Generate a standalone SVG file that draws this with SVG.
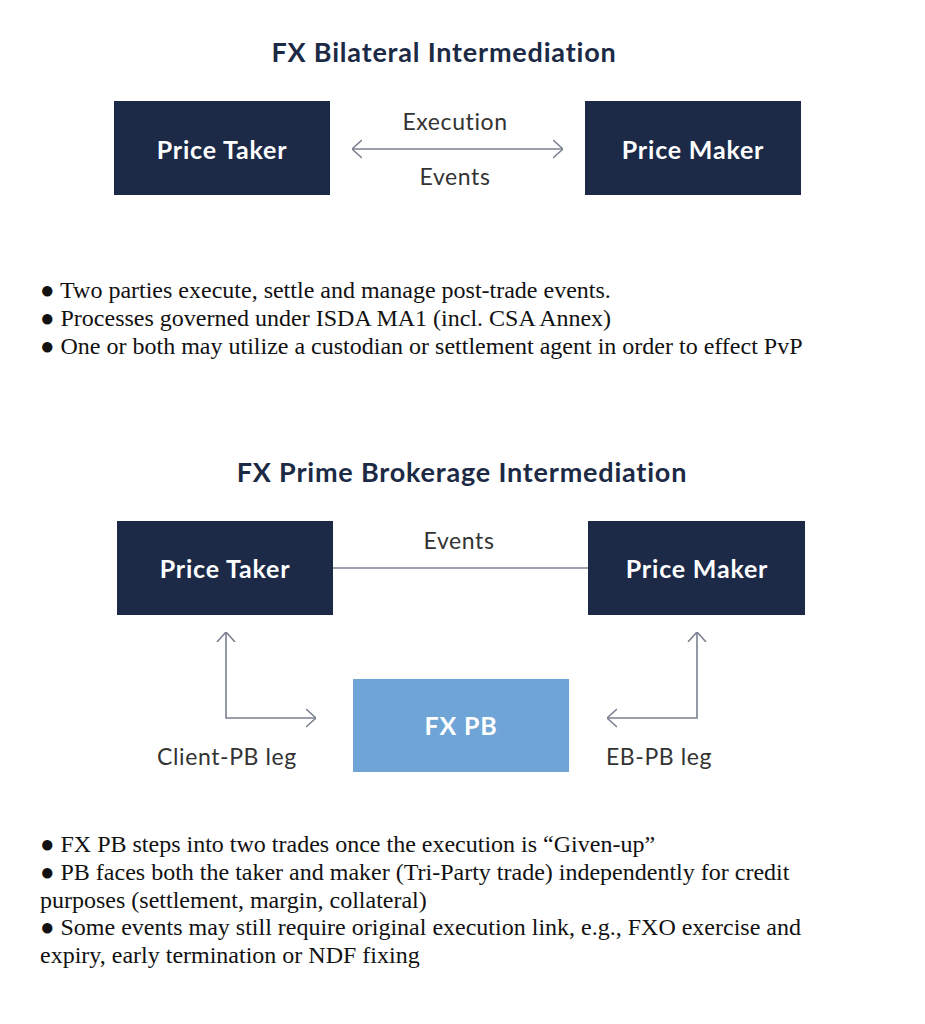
<svg xmlns="http://www.w3.org/2000/svg" width="925" height="1024" viewBox="0 0 925 1024">
<style>
.title{font-family:Lato,"Open Sans",sans-serif;font-weight:bold;font-size:27px;letter-spacing:0.8px;fill:#1c2a45;text-anchor:middle}
.box{fill:#1c2a48}
.bt{font-family:Lato,"Open Sans",sans-serif;font-weight:bold;font-size:25px;letter-spacing:0.8px;fill:#fff;text-anchor:middle}
.lb{font-family:Lato,"Open Sans",sans-serif;font-size:23px;letter-spacing:0.6px;fill:#333;text-anchor:middle}
.body{font-family:"Liberation Serif",serif;font-size:24px;fill:#111}
.ln{stroke:#7a8090;stroke-width:1.6;fill:none}
</style>
<defs><marker id="a" viewBox="0 0 10 20" refX="10" refY="10" markerWidth="10" markerHeight="20" markerUnits="userSpaceOnUse" orient="auto-start-reverse"><path d="M0,1 L10,10 L0,19" fill="none" stroke="#7a8090" stroke-width="1.6"/></marker></defs>
<rect width="925" height="1024" fill="#fff"/>
<text class="title" x="444" y="62">FX Bilateral Intermediation</text>
<g id="pt1"><rect class="box" x="114" y="101" width="216" height="94"/><text class="bt" x="222" y="159">Price Taker</text></g>
<g id="pm1"><rect class="box" x="585" y="101" width="216" height="94"/><text class="bt" x="693" y="159">Price Maker</text></g>
<g id="conn1"><line class="ln" x1="352" y1="149" x2="563" y2="149" marker-start="url(#a)" marker-end="url(#a)"/>
<text class="lb" x="455" y="130">Execution</text><text class="lb" x="455" y="185">Events</text></g>
<g class="body">
<text x="40" y="298">● Two parties execute, settle and manage post-trade events.</text>
<text x="40" y="326">● Processes governed under ISDA MA1 (incl. CSA Annex)</text>
<text x="40" y="354">● One or both may utilize a custodian or settlement agent in order to effect PvP</text>
</g>
<text class="title" x="462" y="482">FX Prime Brokerage Intermediation</text>
<g id="pt2"><rect class="box" x="117" y="521" width="216" height="94"/><text class="bt" x="225" y="578">Price Taker</text></g>
<g id="pm2"><rect class="box" x="588" y="521" width="217" height="94"/><text class="bt" x="697" y="578">Price Maker</text></g>
<g id="pb"><rect x="353" y="679" width="216" height="93" fill="#6fa5d6"/><text class="bt" x="461" y="735">FX PB</text></g>
<g id="conn2">
<line class="ln" x1="333" y1="568" x2="588" y2="568"/>
<text class="lb" x="459" y="549">Events</text>
<path class="ln" d="M226,632 V718 H316" marker-start="url(#a)" marker-end="url(#a)"/>
<path class="ln" d="M697,632 V718 H607" marker-start="url(#a)" marker-end="url(#a)"/>
<text class="lb" x="227" y="765">Client-PB leg</text>
<text class="lb" x="659" y="765">EB-PB leg</text>
</g>
<g class="body">
<text x="40" y="852">● FX PB steps into two trades once the execution is “Given-up”</text>
<text x="40" y="880">● PB faces both the taker and maker (Tri-Party trade) independently for credit</text>
<text x="40" y="908">purposes (settlement, margin, collateral)</text>
<text x="40" y="935">● Some events may still require original execution link, e.g., FXO exercise and</text>
<text x="40" y="963">expiry, early termination or NDF fixing</text>
</g>
</svg>
